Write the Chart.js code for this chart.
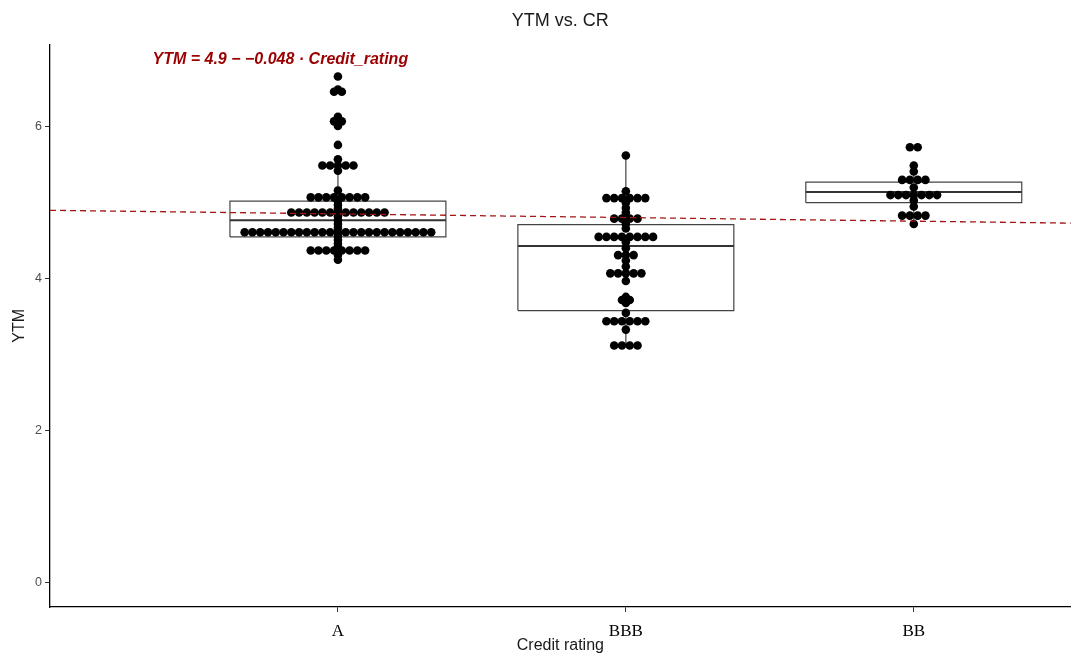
<!DOCTYPE html>
<html>
<head>
<meta charset="utf-8">
<script src="https://cdn.jsdelivr.net/npm/chart.js@4.4.1/dist/chart.umd.min.js"></script>
<style>
  html, body { margin: 0; background: #fff; overflow: hidden; }
  canvas { display: block; }
</style>
</head>
<body>
<canvas id="ytmChart" width="1075" height="655"></canvas>
<script>
const categories = ['A', 'BBB', 'BB'];

// dot-plot bins: YTM value of the bin and number of dots in it
const binsA = [6.66, 6.49, 6.46, 6.13, 6.07, 6.01, 5.76, 5.57, 5.49, 5.42, 5.16, 5.07, 5.02, 4.97,
  4.92, 4.87, 4.82, 4.77, 4.72, 4.67, 4.61, 4.56, 4.51, 4.46, 4.42, 4.37, 4.31, 4.25];
const countsA = [1, 1, 2, 1, 2, 1, 1, 1, 5, 1, 1, 8, 1, 1,
  1, 13, 1, 1, 1, 1, 25, 1, 1, 1, 1, 8, 1, 1];
const binsBBB = [5.62, 5.15, 5.06, 5.00, 4.93, 4.87, 4.79, 4.72, 4.66, 4.55, 4.48, 4.40,
  4.31, 4.24, 4.16, 4.07, 3.97, 3.76, 3.72, 3.68, 3.55, 3.44, 3.33, 3.12];
const countsBBB = [1, 1, 6, 1, 1, 1, 4, 1, 1, 8, 1, 1,
  3, 1, 1, 5, 1, 1, 2, 1, 1, 6, 1, 4];
const binsBB = [5.73, 5.49, 5.41, 5.30, 5.20, 5.10, 5.03, 4.95, 4.83, 4.72];
const countsBB = [2, 1, 1, 4, 1, 7, 1, 1, 4, 1];

// box plot stats per category
const boxQ1 = [4.55, 3.58, 5.00];
const boxMedian = [4.77, 4.43, 5.14];
const boxQ3 = [5.02, 4.71, 5.27];
const whiskerLow = [4.25, 3.12, 4.72];
const whiskerHigh = [5.57, 5.62, 5.49];

// fitted line, ends of the plot
const fitX = [0, 3.56];
const fitY = [4.90, 4.73];
const fitLabel = 'YTM = 4.9 \u2212 \u22120.048 \u00b7 Credit_rating';

const yTicks = [0, 2, 4, 6];

const dotStep = 0.027;
const boxHalf = 0.375;

// stack the dots of each bin side by side, centred on the category
const dots = [];
[[binsA, countsA], [binsBBB, countsBBB], [binsBB, countsBB]].forEach(([bins, counts], c) => {
  bins.forEach((v, j) => {
    for (let i = 0; i < counts[j]; i++) {
      dots.push({ x: c + 1 + (i - (counts[j] - 1) / 2) * dotStep, y: v });
    }
  });
});

const boxLines = [];
const medianLines = [];
categories.forEach((cat, i) => {
  const cx = i + 1;
  boxLines.push(
    { x: cx - boxHalf, y: boxQ1[i] }, { x: cx + boxHalf, y: boxQ1[i] },
    { x: cx + boxHalf, y: boxQ3[i] }, { x: cx - boxHalf, y: boxQ3[i] },
    { x: cx - boxHalf, y: boxQ1[i] }, { x: cx, y: null },
    { x: cx, y: boxQ3[i] }, { x: cx, y: whiskerHigh[i] }, { x: cx, y: null },
    { x: cx, y: boxQ1[i] }, { x: cx, y: whiskerLow[i] }, { x: cx, y: null }
  );
  medianLines.push({ x: cx - boxHalf, y: boxMedian[i] }, { x: cx + boxHalf, y: boxMedian[i] }, { x: cx, y: null });
});

const fitLabelPlugin = {
  id: 'fitLabel',
  afterDatasetsDraw(chart) {
    const { ctx, scales: { x, y } } = chart;
    ctx.save();
    ctx.font = 'italic bold 16px "Liberation Sans"';
    ctx.fillStyle = '#9b0000';
    ctx.textAlign = 'center';
    ctx.textBaseline = 'middle';
    ctx.fillText(fitLabel, x.getPixelForValue(0.8), y.getPixelForValue(6.88));
    ctx.restore();
  }
};

new Chart(document.getElementById('ytmChart').getContext('2d'), {
  type: 'scatter',
  data: {
    datasets: [
      {
        type: 'line',
        data: fitX.map((x, i) => ({ x: x, y: fitY[i] })),
        borderColor: '#a31515',
        borderWidth: 1.3,
        borderDash: [6, 4],
        pointRadius: 0
      },
      {
        data: dots,
        pointRadius: 4.3,
        pointBorderWidth: 0,
        backgroundColor: '#000'
      },
      {
        type: 'line',
        data: medianLines,
        borderColor: '#333',
        borderWidth: 2,
        pointRadius: 0,
        spanGaps: false
      },
      {
        type: 'line',
        data: boxLines,
        borderColor: '#444',
        borderWidth: 1.2,
        pointRadius: 0,
        spanGaps: false
      }
    ]
  },
  options: {
    responsive: false,
    animation: false,
    plugins: {
      legend: { display: false },
      tooltip: { enabled: false },
      title: {
        display: true,
        text: 'YTM vs. CR',
        fullSize: false,
        color: '#1a1a1a',
        font: { family: '"Liberation Sans"', size: 18, weight: 'normal' },
        padding: { top: 10, bottom: 13 }
      }
    },
    scales: {
      x: {
        type: 'linear',
        min: 0,
        max: 3.545,
        afterBuildTicks: s => { s.ticks = categories.map((c, i) => ({ value: i + 1 })); },
        afterFit: s => { s.height = 48; s.paddingLeft = 0; s.paddingRight = 0; },
        ticks: {
          callback: v => categories[Math.round(v) - 1],
          color: '#000',
          font: { family: '"Liberation Serif"', size: 17 },
          padding: 9,
          autoSkip: false,
          maxRotation: 0
        },
        grid: { drawOnChartArea: false, drawTicks: true, tickLength: 5, color: '#333' },
        border: { color: '#000', width: 1.3 },
        title: {
          display: true,
          text: 'Credit rating',
          color: '#1a1a1a',
          font: { family: '"Liberation Sans"', size: 16 },
          padding: { top: 0, bottom: 0 }
        }
      },
      y: {
        min: -0.32,
        max: 7.08,
        afterBuildTicks: s => { s.ticks = yTicks.map(v => ({ value: v })); },
        afterFit: s => { s.width = 50; },
        ticks: {
          color: '#4d4d4d',
          font: { family: '"Liberation Sans"', size: 12.5 },
          padding: 3
        },
        grid: { drawOnChartArea: false, drawTicks: true, tickLength: 5, color: '#333' },
        border: { color: '#000', width: 1.3 },
        title: {
          display: true,
          text: 'YTM',
          color: '#1a1a1a',
          font: { family: '"Liberation Sans"', size: 16 },
          padding: { top: 10, bottom: 0 }
        }
      }
    }
  },
  plugins: [fitLabelPlugin]
});
</script>
</body>
</html>
